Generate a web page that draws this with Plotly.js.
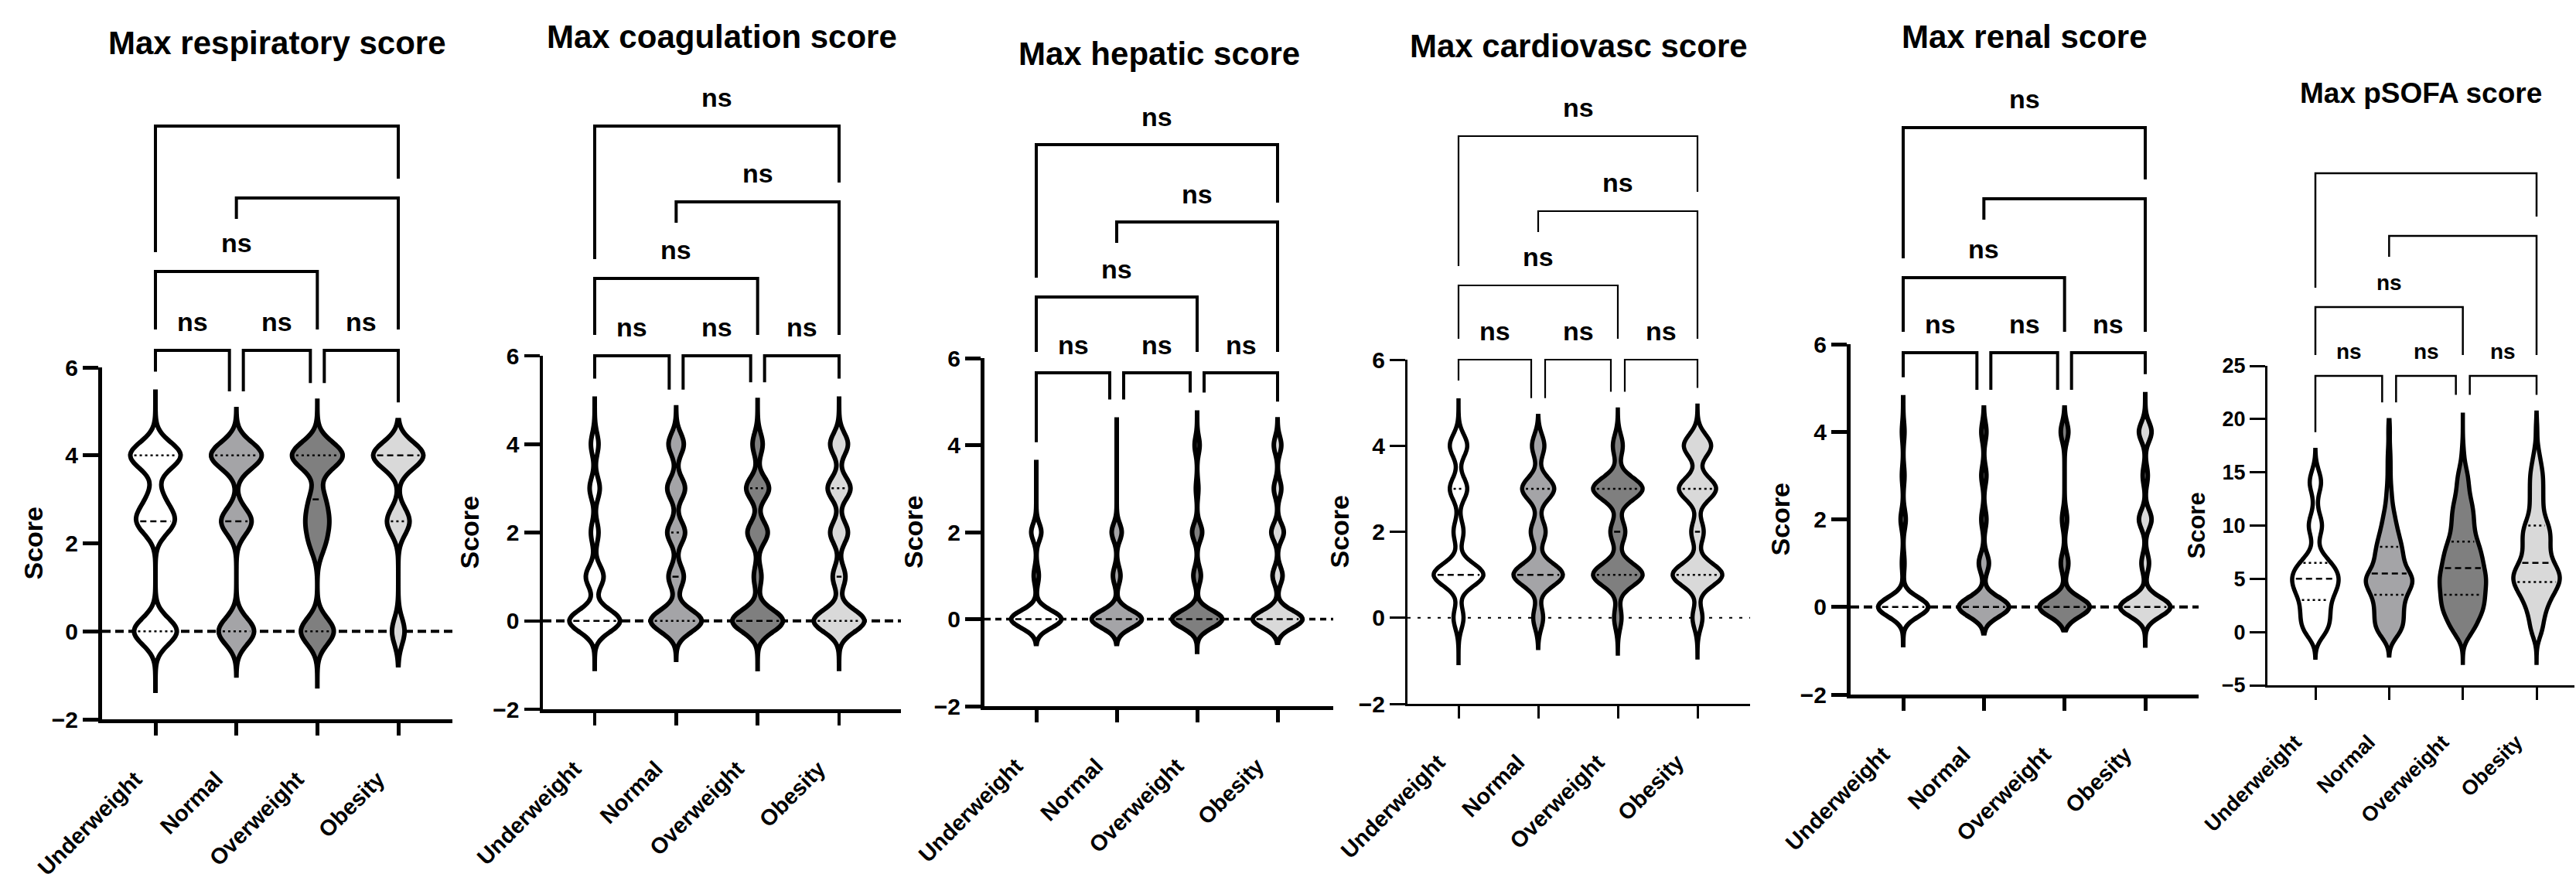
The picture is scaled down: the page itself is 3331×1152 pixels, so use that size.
<!DOCTYPE html>
<html>
<head>
<meta charset="utf-8">
<script src="https://cdn.plot.ly/plotly-3.0.1.min.js"></script>
<style>
html,body{margin:0;padding:0;background:#ffffff;}
#chart{width:3331px;height:1152px;}
</style>
</head>
<body>
<div id="chart"></div>
<script>
const W = 3331, H = 1152;
const FONT = 'Liberation Sans, Arial, Helvetica, sans-serif';

// ---------- categories ----------
const categories = ['Underweight', 'Normal', 'Overweight', 'Obesity'];
const groupFills = ['#ffffff', '#a4a4a7', '#7f7f7f', '#d9d9d9'];

// ---------- Max respiratory score ----------
const respVals = [0, 2, 2.5, 3, 4];
const respUnder = [17, 0, 14, 5, 20];
const respNormal = [14, 0, 12, 0, 20];
const respOver = [13, 5, 7, 5, 20];
const respObese = [5, 0, 9, 0, 20];
const respSpanLow = [-1.4, -1.0, -1.25, -0.77];
const respSpanHigh = [5.5, 5.05, 5.24, 4.8];
const respQ1 = [0, 0, 0, 2.5];
const respMedian = [2.5, 2.5, 3, 4];
const respQ3 = [4, 4, 4, 4];

// ---------- Max coagulation score ----------
const coagVals = [0, 1, 2, 3, 4];
const coagUnder = [20, 7, 3, 4, 3];
const coagNormal = [20, 6, 7, 7, 6];
const coagOver = [20, 3, 8, 9, 4];
const coagObese = [20, 5, 7, 9, 7];
const coagSpanLow = [-1.14, -0.88, -1.09, -1.14];
const coagSpanHigh = [5.08, 4.83, 5.0, 5.08];
const coagQ1 = [0, 0, 0, 0];
const coagMedian = [0, 1, 0, 1];
const coagQ3 = [2, 2, 3, 3];

// ---------- Max hepatic score ----------
const hepVals = [0, 1, 2, 3, 4];
const hepUnder = [20, 2, 4, 0, 0];
const hepNormal = [20, 3, 4, 0, 0];
const hepOver = [20, 3, 4, 1, 2];
const hepObese = [20, 4, 5, 3, 3];
const hepSpanLow = [-0.57, -0.57, -0.75, -0.54];
const hepSpanHigh = [3.66, 4.64, 4.8, 4.59];
const hepQ1 = [0, 0, 0, 0];
const hepMedian = [0, 0, 0, 0];
const hepQ3 = [0, 0, 0, 0];

// ---------- Max cardiovasc score ----------
const cardVals = [0, 1, 2, 3, 4];
const cardUnder = [4, 20, 4, 7, 7];
const cardNormal = [4, 20, 6, 13, 5];
const cardOver = [3, 20, 6, 20, 4];
const cardObese = [4, 20, 5, 15, 11];
const cardSpanLow = [-1.1, -0.7, -0.83, -0.92];
const cardSpanHigh = [5.1, 4.69, 4.84, 4.93];
const cardQ1 = [1, 1, 1, 1];
const cardMedian = [1, 1, 2, 2];
const cardQ3 = [3, 3, 3, 3];

// ---------- Max renal score ----------
const renVals = [0, 1, 2, 3, 4];
const renUnder = [20, 1, 2, 1, 1];
const renNormal = [20, 4, 2, 2, 2];
const renOver = [20, 3, 2, 0, 3];
const renObese = [20, 3, 5, 2, 5];
const renSpanLow = [-0.87, -0.6, -0.53, -0.93];
const renSpanHigh = [4.84, 4.55, 4.55, 4.91];
const renQ1 = [0, 0, 0, 0];
const renMedian = [0, 0, 0, 0];
const renQ3 = [0, 0, 0, 0];

// ---------- Max pSOFA score ----------
const sofaVals = [0, 1, 2, 3, 4, 5, 6, 7, 8, 9, 10, 11, 12, 13, 14, 15, 16, 17, 18, 19, 20];
const sofaUnder = [11, 12, 12, 12, 18, 20, 18, 8, 1, 3, 8, 3, 1, 2, 7, 3, 0, 0, 0, 0, 0];
const sofaNormal = [10, 10, 10, 10, 14, 20, 10, 10, 9, 7, 5, 4, 2, 2, 1, 1, 1, 1, 0, 1, 0];
const sofaOver = [9, 12, 17, 18, 18, 20, 17, 16, 14, 10, 9, 9, 8, 5, 5, 4, 1, 1, 0, 0, 0];
const sofaObese = [5, 5, 7, 10, 15, 20, 16, 10, 10, 11, 10, 5, 5, 5, 5, 5, 3, 2, 0, 1, 0];
const sofaSpanLow = [-2.4, -2.2, -2.9, -2.9];
const sofaSpanHigh = [17.1, 19.9, 20.6, 20.6];
const sofaQ1 = [3, 3.5, 3.5, 4.7];
const sofaMedian = [5, 5.5, 6, 6.5];
const sofaQ3 = [6.5, 8, 8.5, 10];

// ---------- panel layout (pixels) ----------
const panels = [
  {title: 'Max respiratory score', vals: respVals, groups: [respUnder, respNormal, respOver, respObese],
   lo: respSpanLow, hi: respSpanHigh, q1: respQ1, med: respMedian, q3: respQ3, bw: 0.3,
   box: {L: 132, R: 585, T: 475, B: 930, c0: 201, c3: 515}, yr: [-2, 6], yticks: [-2, 0, 2, 4, 6],
   titleY: 55, titleSize: 42, yTitleX: 42, yTitleSize: 34, levels: [453, 351, 256, 163], nsShow: [1, 1, 0, 0],
   axW: 5, brW: 4, zero: {dash: '11px,6px', w: 4}, nsSize: 34, nsOff: 37, tickSize: 30, xTickSize: 29, vw: 0.62, lw: 6},
  {title: 'Max coagulation score', vals: coagVals, groups: [coagUnder, coagNormal, coagOver, coagObese],
   lo: coagSpanLow, hi: coagSpanHigh, q1: coagQ1, med: coagMedian, q3: coagQ3, bw: 0.25,
   box: {L: 702, R: 1165, T: 460, B: 917, c0: 769, c3: 1085}, yr: [-2, 6], yticks: [-2, 0, 2, 4, 6],
   titleY: 48, titleSize: 42, yTitleX: 606, yTitleSize: 34, levels: [460, 360, 261, 163], nsShow: [1, 1, 1, 1],
   axW: 4.5, brW: 4, zero: {dash: '11px,6px', w: 4}, nsSize: 34, nsOff: 37, tickSize: 30, xTickSize: 29, vw: 0.62, lw: 6},
  {title: 'Max hepatic score', vals: hepVals, groups: [hepUnder, hepNormal, hepOver, hepObese],
   lo: hepSpanLow, hi: hepSpanHigh, q1: hepQ1, med: hepMedian, q3: hepQ3, bw: 0.2,
   box: {L: 1273, R: 1724, T: 463, B: 913, c0: 1340, c3: 1652}, yr: [-2, 6], yticks: [-2, 0, 2, 4, 6],
   titleY: 70, titleSize: 42, yTitleX: 1181, yTitleSize: 34, levels: [482, 384, 287, 187], nsShow: [1, 1, 1, 1],
   axW: 5, brW: 4, zero: {dash: '8px,6px', w: 3.5}, nsSize: 34, nsOff: 36, tickSize: 30, xTickSize: 29, vw: 0.62, lw: 6},
  {title: 'Max cardiovasc score', vals: cardVals, groups: [cardUnder, cardNormal, cardOver, cardObese],
   lo: cardSpanLow, hi: cardSpanHigh, q1: cardQ1, med: cardMedian, q3: cardQ3, bw: 0.26,
   box: {L: 1820, R: 2263, T: 465, B: 910, c0: 1886, c3: 2195}, yr: [-2, 6], yticks: [-2, 0, 2, 4, 6],
   titleY: 59, titleSize: 42, yTitleX: 1731, yTitleSize: 34, levels: [465, 369, 273, 176], nsShow: [1, 1, 1, 1],
   axW: 3, brW: 2.2, zero: {dash: '4px,9px', w: 2.2}, nsSize: 34, nsOff: 37, tickSize: 30, xTickSize: 29, vw: 0.62, lw: 5.5},
  {title: 'Max renal score', vals: renVals, groups: [renUnder, renNormal, renOver, renObese],
   lo: renSpanLow, hi: renSpanHigh, q1: renQ1, med: renMedian, q3: renQ3, bw: 0.22,
   box: {L: 2393, R: 2843, T: 445, B: 898, c0: 2461, c3: 2774}, yr: [-2, 6], yticks: [-2, 0, 2, 4, 6],
   titleY: 48, titleSize: 42, yTitleX: 2301, yTitleSize: 34, levels: [456, 359, 257, 165], nsShow: [1, 1, 0, 1],
   axW: 5, brW: 4, zero: {dash: '11px,6px', w: 4}, nsSize: 34, nsOff: 37, tickSize: 30, xTickSize: 29, vw: 0.62, lw: 6},
  {title: 'Max pSOFA score', vals: sofaVals, groups: [sofaUnder, sofaNormal, sofaOver, sofaObese],
   lo: sofaSpanLow, hi: sofaSpanHigh, q1: sofaQ1, med: sofaMedian, q3: sofaQ3, bw: 0.85,
   box: {L: 2932, R: 3329, T: 473, B: 886, c0: 2994, c3: 3280}, yr: [-5, 25], yticks: [-5, 0, 5, 10, 15, 20, 25],
   titleY: 121, titleSize: 37, yTitleX: 2840, yTitleSize: 31, levels: [486, 397, 305, 224], nsShow: [1, 1, 0, 0],
   axW: 3, brW: 2.5, zero: null, nsSize: 28, nsOff: 32, tickSize: 27, xTickSize: 27, vw: 0.63, lw: 5.5}
];

const data = [];
const shapes = [];
const annotations = [];
const layout = {
  width: W, height: H,
  margin: {l: 0, r: 0, t: 0, b: 0, pad: 0},
  paper_bgcolor: '#ffffff', plot_bgcolor: 'rgba(0,0,0,0)',
  showlegend: false,
  font: {family: FONT, color: '#000000'}
};

const PX = px => px / W;
const PY = py => 1 - py / H;

function expand(vals, counts) {
  const out = [];
  vals.forEach((v, i) => { for (let c = 0; c < counts[i]; c++) out.push(v); });
  return out;
}
function kde(vals, counts, bw) {
  return y => {
    let s = 0;
    vals.forEach((v, i) => { const u = (y - v) / bw; s += counts[i] * Math.exp(-0.5 * u * u); });
    return s;
  };
}

panels.forEach((p, k) => {
  const n = k === 0 ? '' : String(k + 1);
  const xa = 'x' + n, ya = 'y' + n;
  const b = p.box;
  const s = (b.c3 - b.c0) / 3;
  const xr = [(b.L - b.c0) / s, (b.R - b.c0) / s];
  const xPx = i => b.c0 + i * s;
  const yPx = v => b.T + (p.yr[1] - v) / (p.yr[1] - p.yr[0]) * (b.B - b.T);

  layout['xaxis' + n] = {
    domain: [PX(b.L), PX(b.R)], range: xr, type: 'category',
    categoryorder: 'array', categoryarray: categories,
    anchor: ya, showline: true, linewidth: p.axW, linecolor: '#000',
    ticks: 'outside', ticklen: 16, tickwidth: p.axW, tickcolor: '#000',
    tickangle: -45, ticklabelstandoff: 28, ticklabelshift: -26,
    tickfont: {family: FONT, size: p.xTickSize, color: '#000', weight: 'bold'},
    showgrid: false, zeroline: false, fixedrange: true
  };
  layout['yaxis' + n] = {
    domain: [PY(b.B), PY(b.T)], range: p.yr, anchor: xa,
    showline: true, linewidth: p.axW, linecolor: '#000',
    tickmode: 'array', tickvals: p.yticks,
    ticks: 'outside', ticklen: 20, tickwidth: p.axW, tickcolor: '#000',
    tickfont: {family: FONT, size: p.tickSize, color: '#000', weight: 'bold'},
    showgrid: false, zeroline: false, fixedrange: true
  };

  // violins
  p.groups.forEach((counts, g) => {
    const ys = expand(p.vals, counts);
    data.push({
      type: 'violin', x: ys.map(() => categories[g]), y: ys, xaxis: xa, yaxis: ya,
      fillcolor: groupFills[g], line: {color: '#000', width: p.lw},
      points: false, box: {visible: false}, meanline: {visible: false},
      bandwidth: p.bw, spanmode: 'manual', span: [p.lo[g], p.hi[g]],
      width: p.vw, scalemode: 'width', scalegroup: 'p' + k + 'g' + g,
      hoverinfo: 'skip', showlegend: false, opacity: 1
    });

    // median & quartile lines, clipped to violin width
    const dens = kde(p.vals, counts, p.bw);
    let maxd = 0;
    for (let y = p.lo[g]; y <= p.hi[g]; y += p.bw / 20) maxd = Math.max(maxd, dens(y));
    const lines = [];
    if (p.q1[g] !== p.med[g]) lines.push([p.q1[g], '3px,4px']);
    if (p.q3[g] !== p.med[g]) lines.push([p.q3[g], '3px,4px']);
    lines.push([p.med[g], '8px,5px']);
    lines.forEach(([q, dash]) => {
      const hw = (p.vw / 2) * dens(q) / maxd - (p.lw / 2 + 2) / s;
      if (hw * s < 3) return;
      shapes.push({type: 'line', xref: xa, yref: ya, x0: g - hw, x1: g + hw, y0: q, y1: q,
        line: {color: '#000', width: 2.5, dash: dash}, layer: 'above'});
    });
  });

  // zero reference line
  if (p.zero) {
    shapes.push({type: 'line', xref: 'paper', yref: ya, x0: PX(b.L), x1: PX(b.R), y0: 0, y1: 0,
      line: {color: '#000', width: p.zero.w, dash: p.zero.dash}, layer: 'below'});
  }

  // significance brackets
  const lv = p.levels;
  const legBottom = p.hi.map(h => yPx(h) - 23);
  const d = 9;
  const bracket = (xl, xr2, ybar, yl, yr2) => {
    shapes.push({type: 'path', xref: 'paper', yref: 'paper',
      path: `M ${PX(xl)},${PY(yl)} L ${PX(xl)},${PY(ybar)} L ${PX(xr2)},${PY(ybar)} L ${PX(xr2)},${PY(yr2)}`,
      line: {color: '#000', width: p.brW}});
  };
  const ns = (xc, ybar) => {
    annotations.push({xref: 'paper', yref: 'paper', x: PX(xc), y: PY(ybar - p.nsOff),
      text: 'ns', showarrow: false, xanchor: 'center', yanchor: 'middle',
      font: {family: FONT, size: p.nsSize, color: '#000', weight: 'bold'}});
  };
  for (let i = 0; i < 3; i++) {
    const xl = xPx(i) + (i > 0 ? d : 0);
    const xr2 = xPx(i + 1) - (i + 1 < 3 ? d : 0);
    bracket(xl, xr2, lv[0], legBottom[i], legBottom[i + 1]);
    if (p.nsShow[0]) ns((xl + xr2) / 2, lv[0]);
  }
  bracket(xPx(0), xPx(2), lv[1], lv[0] - 27, lv[0] - 27);
  if (p.nsShow[1]) ns((xPx(0) + xPx(2)) / 2, lv[1]);
  bracket(xPx(1), xPx(3), lv[2], lv[2] + 27, lv[0] - 27);
  if (p.nsShow[2]) ns((xPx(1) + xPx(3)) / 2, lv[2]);
  bracket(xPx(0), xPx(3), lv[3], lv[1] - 25, lv[2] - 25);
  if (p.nsShow[3]) ns((xPx(0) + xPx(3)) / 2, lv[3]);

  // panel title
  annotations.push({xref: 'paper', yref: 'paper', x: PX((b.L + b.R) / 2), y: PY(p.titleY),
    text: p.title, showarrow: false, xanchor: 'center', yanchor: 'middle',
    font: {family: FONT, size: p.titleSize, color: '#000', weight: 'bold'}});
  // y-axis title
  annotations.push({xref: 'paper', yref: 'paper', x: PX(p.yTitleX), y: PY((b.T + b.B) / 2),
    text: 'Score', textangle: -90, showarrow: false, xanchor: 'center', yanchor: 'middle',
    font: {family: FONT, size: p.yTitleSize, color: '#000', weight: 'bold'}});
});

layout.shapes = shapes;
layout.annotations = annotations;

Plotly.newPlot('chart', data, layout, {staticPlot: true, displayModeBar: false});
</script>
</body>
</html>
